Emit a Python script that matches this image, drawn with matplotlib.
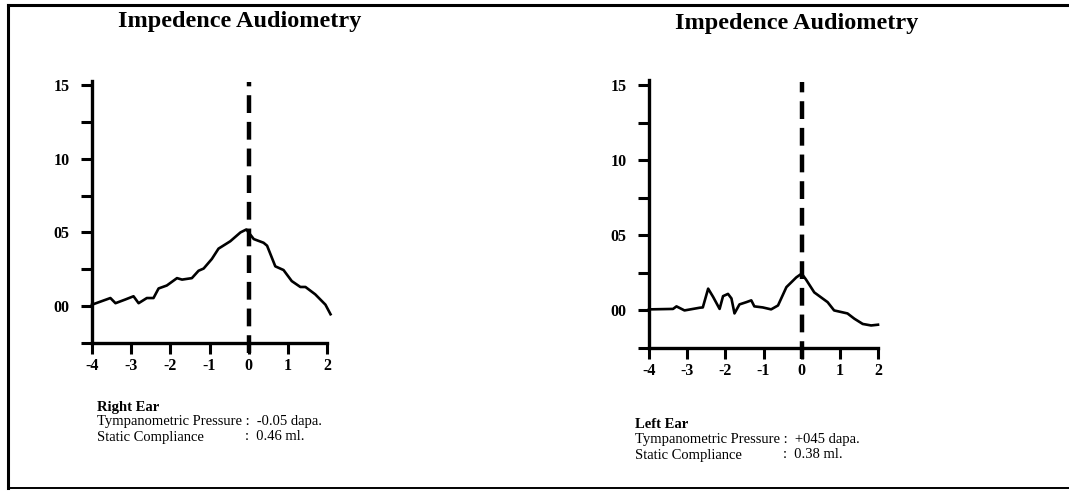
import matplotlib
matplotlib.use("Agg")
import matplotlib.pyplot as plt
from matplotlib.lines import Line2D

plt.rcParams['font.family'] = ['Liberation Serif', 'DejaVu Serif']

# pressure (x) and compliance (y)
right_x = [-4.0, -3.53, -3.4, -3.15, -2.94, -2.81, -2.6, -2.43, -2.3, -2.09, -1.83, -1.7,
           -1.45, -1.28, -1.15, -0.94, -0.77, -0.47, -0.21, -0.06, 0.13, 0.38, 0.47,
           0.68, 0.89, 1.1, 1.32, 1.45, 1.7, 1.96, 2.09]
right_y = [0.01, 0.055, 0.02, 0.045, 0.067, 0.02, 0.055, 0.055, 0.12, 0.14, 0.19, 0.18,
           0.19, 0.24, 0.255, 0.32, 0.39, 0.44, 0.5, 0.52, 0.455, 0.43, 0.41,
           0.27, 0.245, 0.17, 0.13, 0.13, 0.08, 0.01, -0.055]

left_x = [-4.0, -3.37, -3.28, -3.07, -2.67, -2.59, -2.45, -2.32, -2.15, -2.06, -1.93, -1.84,
          -1.76, -1.63, -1.45, -1.32, -1.24, -1.02, -0.8, -0.62, -0.4, -0.14, 0.0,
          0.11, 0.33, 0.68, 0.85, 1.2, 1.38, 1.6, 1.82, 2.0]
left_y = [0.007, 0.01, 0.027, 0.0, 0.018, 0.02, 0.145, 0.09, 0.01, 0.095, 0.11, 0.08,
          -0.02, 0.04, 0.055, 0.067, 0.027, 0.02, 0.007, 0.033, 0.155, 0.22, 0.245,
          0.207, 0.12, 0.055, 0.0, -0.02, -0.055, -0.09, -0.1, -0.095]

x_ticks = [-4, -3, -2, -1, 0, 1, 2]
x_labels = ['-4', '-3', '-2', '-1', '0', '1', '2']
y_ticks = [0.0, 0.5, 1.0, 1.5]
y_labels = ['00', '05', '10', '15']
y_minor = [-0.25, 0.25, 0.75, 1.25]
peak_x = 0

title = 'Impedence Audiometry'
ears = [
    ('Right Ear', '-0.05 dapa.', '0.46 ml.'),
    ('Left Ear', '+045 dapa.', '0.38 ml.'),
]

fig = plt.figure(figsize=(10.69, 4.97), dpi=100)
W, H = 1069, 497


def fx(px):
    return px / W


def fy(py):
    return 1 - py / H


def draw_panel(rect, xs, ys):
    ax = fig.add_axes(rect)
    ax.plot(xs, ys, color='black', lw=1.9, clip_on=False)
    ax.plot([peak_x, peak_x], [-0.32, 1.52], color='black', lw=3.2,
            ls=(0, (4, 2.0)), clip_on=False)
    ax.set_xlim(-4, 2)
    ax.set_ylim(-0.25, 1.5)
    for s in ['top', 'right']:
        ax.spines[s].set_visible(False)
    for s in ['left', 'bottom']:
        ax.spines[s].set_linewidth(2.4)
    ax.spines['left'].set_bounds(-0.25, 1.53)
    ax.set_xticks(x_ticks)
    ax.set_xticklabels(x_labels, fontsize=11.5, fontweight='bold')
    ax.set_yticks(y_ticks)
    ax.set_yticklabels(y_labels, fontsize=11.5, fontweight='bold')
    ax.set_yticks(y_minor, minor=True)
    ax.tick_params(axis='both', which='both', direction='out', length=8,
                   width=2.2, pad=3)
    ax.tick_params(axis='y', which='major', pad=8)
    return ax


draw_panel([fx(92), fy(343), fx(235), (343 - 85) / H], right_x, right_y)
draw_panel([fx(649), fy(348), fx(229), (348 - 85) / H], left_x, left_y)

fig.text(fx(240), fy(21), title, ha='center', va='center', fontsize=17.5,
         fontweight='bold')
fig.text(fx(797), fy(24), title, ha='center', va='center', fontsize=17.5,
         fontweight='bold')

# info blocks under each panel
fs = 10.5
blocks = [(97, 407), (635, 425)]
for (name, press, comp), (x0, y0) in zip(ears, blocks):
    fig.text(fx(x0), fy(y0), name, fontsize=fs, fontweight='bold', va='center')
    fig.text(fx(x0), fy(y0 + 15), 'Tympanometric Pressure :  ' + press,
             fontsize=fs, va='center')
    fig.text(fx(x0), fy(y0 + 30), 'Static Compliance', fontsize=fs, va='center')
    fig.text(fx(x0 + 148), fy(y0 + 30), ':  ' + comp, fontsize=fs, va='center')

# scanned frame
frame = dict(color='black', lw=2.2, transform=fig.transFigure)
fig.add_artist(Line2D([fx(8), 1], [fy(5), fy(5)], **frame))
fig.add_artist(Line2D([fx(8), fx(8)], [fy(5), fy(488)], **frame))
fig.add_artist(Line2D([fx(8), 1], [fy(488), fy(488)], color='black', lw=1.4,
                      transform=fig.transFigure))

fig.savefig('out.png', dpi=100, facecolor='white')
